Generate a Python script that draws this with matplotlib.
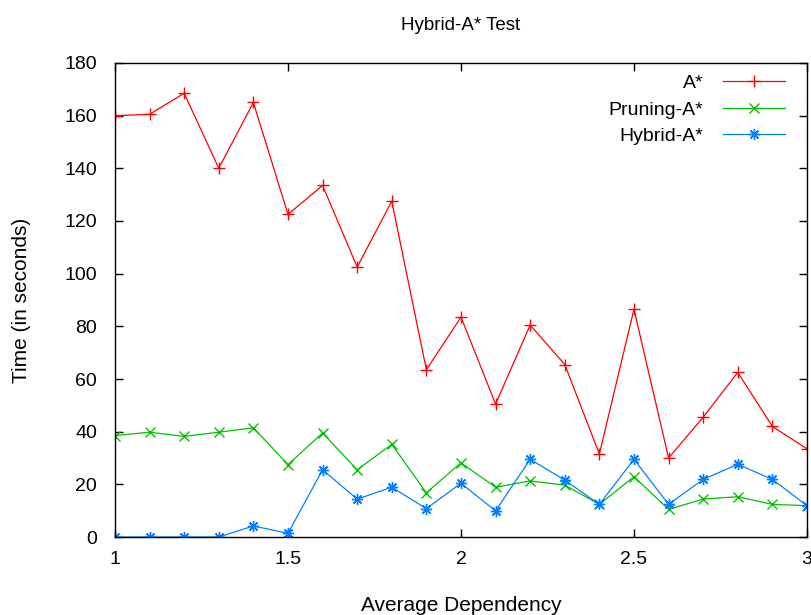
import matplotlib
matplotlib.use('Agg')
import matplotlib.pyplot as plt

plt.rcParams['font.family'] = ['Liberation Sans', 'DejaVu Sans']

# Average dependency values
x = [1.0, 1.1, 1.2, 1.3, 1.4, 1.5, 1.6, 1.7, 1.8, 1.9, 2.0,
     2.1, 2.2, 2.3, 2.4, 2.5, 2.6, 2.7, 2.8, 2.9, 3.0]

a_star = [160, 160.5, 168.5, 140, 165, 122.5, 133.5, 102.5, 127.5, 63.5, 83.5,
          50.5, 80.5, 65.5, 31.5, 86.5, 30, 45.5, 62.5, 42, 33.5]
pruning_a_star = [38.5, 39.8, 38.2, 39.8, 41.5, 27.5, 39.5, 25.5, 35.2, 16.8, 28.2,
                  18.9, 21.3, 19.7, 12.4, 22.9, 10.5, 14.4, 15.3, 12.4, 11.9]
hybrid_a_star = [0, 0, 0, 0, 4.2, 1.4, 25.5, 14.4, 18.9, 10.8, 20.4,
                 9.9, 29.5, 21.6, 12.4, 29.5, 12.4, 21.9, 27.6, 21.9, 11.9]

y_ticks = list(range(0, 181, 20))
x_ticks = [1, 1.5, 2, 2.5, 3]
x_tick_labels = ['1', '1.5', '2', '2.5', '3']


def main():
    fig = plt.figure(figsize=(8.12, 6.15), dpi=100)
    ax = fig.add_axes([0.1416, 0.1268, 0.8522, 0.7708])

    ax.plot(x, a_star, color='#ff0000', lw=0.9, marker='+', ms=9, mew=1.0, label='A*')
    ax.plot(x, pruning_a_star, color='#00c000', lw=0.9, marker='x', ms=7, mew=1.0,
            label='Pruning-A*')
    ax.plot(x, hybrid_a_star, color='#0080ff', lw=0.9, marker=(8, 2, 0), ms=8, mew=1.0,
            label='Hybrid-A*')

    ax.set_xlim(1, 3)
    ax.set_ylim(0, 180)
    ax.set_xticks(x_ticks)
    ax.set_xticklabels(x_tick_labels)
    ax.set_yticks(y_ticks)
    ax.tick_params(direction='in', length=6, width=1, top=True, right=True,
                   labelsize=14, colors='black')
    ax.tick_params(axis='y', pad=13)
    ax.tick_params(axis='x', pad=10)
    for s in ax.spines.values():
        s.set_linewidth(1.0)

    ax.set_title('Hybrid-A* Test', fontsize=13.5, pad=24)
    ax.set_xlabel('Average Dependency', fontsize=15, labelpad=20)
    ax.set_ylabel('Time (in seconds)', fontsize=15, labelpad=24)

    ax.legend(loc='upper right', bbox_to_anchor=(0.985, 1.0), frameon=False,
              markerfirst=False, fontsize=14, handlelength=3.2, handletextpad=1.0,
              labelspacing=0.45, borderaxespad=0.2)

    fig.savefig('out.png', dpi=100)


if __name__ == '__main__':
    main()
